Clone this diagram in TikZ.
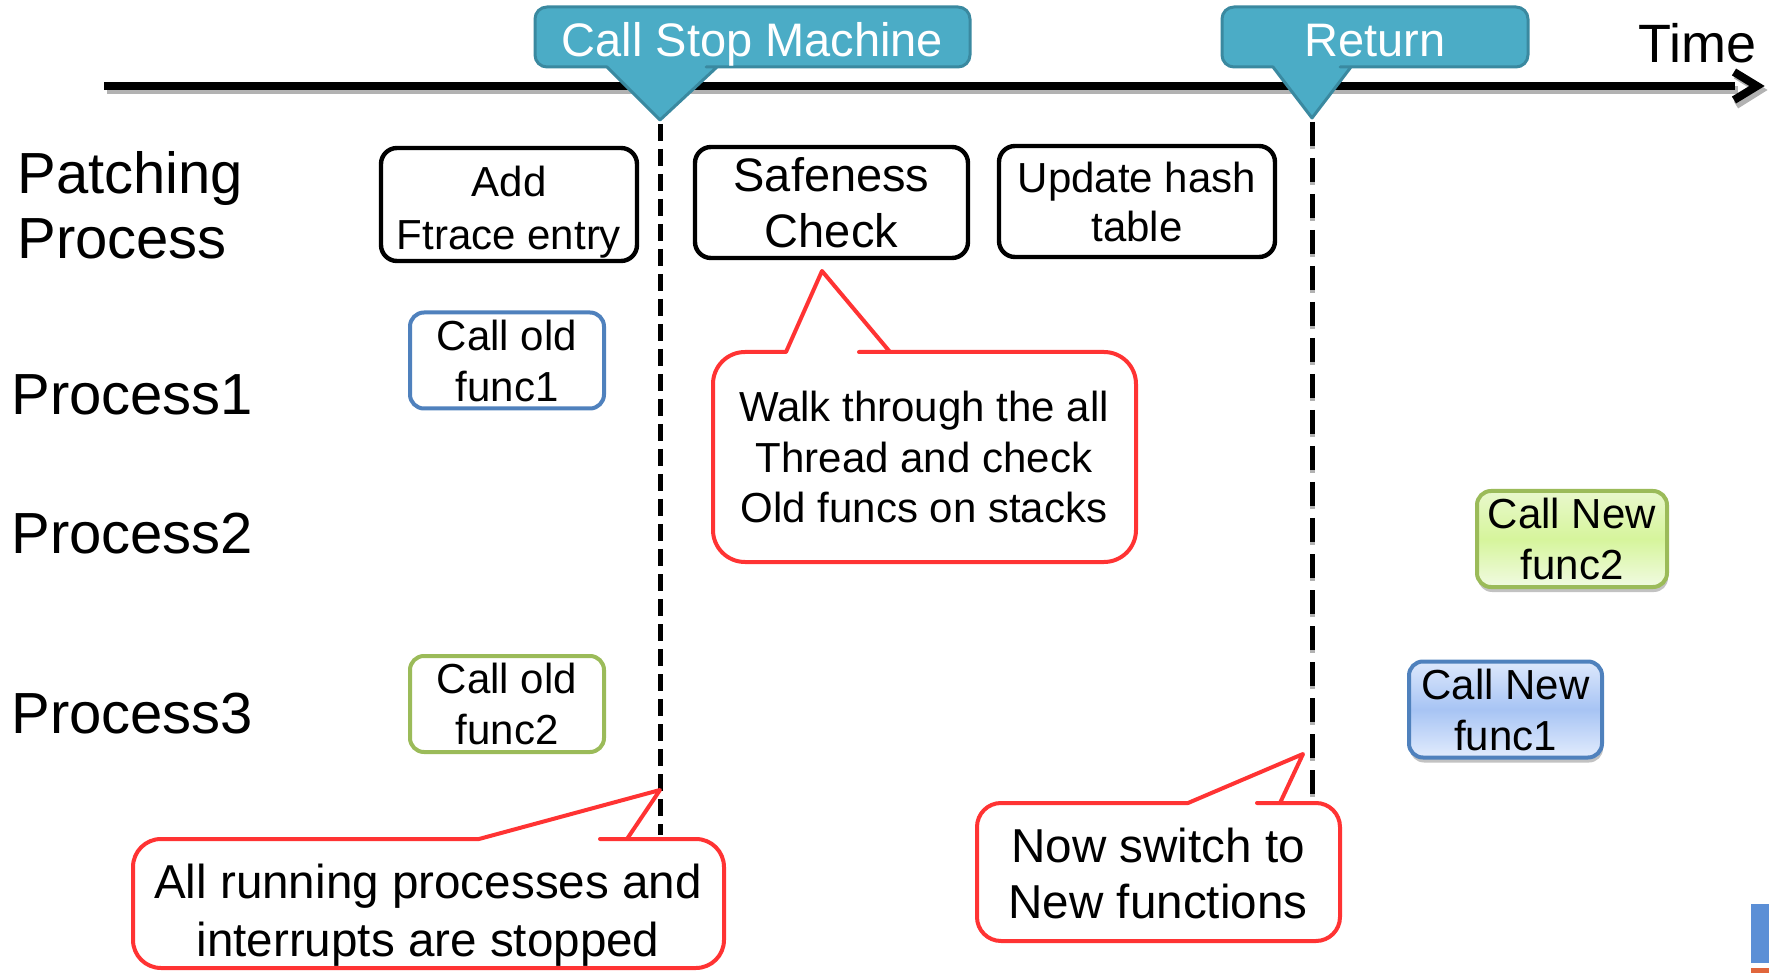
\documentclass[tikz,border=0pt]{standalone}
\usepackage{fontspec}
\setmainfont{Liberation Sans}
\usetikzlibrary{shadows,calc}
\definecolor{teal1}{HTML}{4BACC6}
\definecolor{teal2}{HTML}{3A89A0}
\definecolor{callred}{HTML}{FF3333}
\definecolor{oblue}{HTML}{4F81BD}
\definecolor{ogreen}{HTML}{9BBB59}
\definecolor{gtop}{HTML}{E9F8CC}
\definecolor{gmid}{HTML}{D6F59C}
\definecolor{gbot}{HTML}{F1FBE2}
\definecolor{btop}{HTML}{DDE8FC}
\definecolor{bmid}{HTML}{A7C4F4}
\definecolor{bbot}{HTML}{E2ECFD}
\definecolor{cornerblue}{HTML}{5B8FD6}
\definecolor{cornerorange}{HTML}{E0663C}
\begin{document}
\begin{tikzpicture}[x=0.5pt,y=-0.5pt,
  procbox/.style={draw=black, line width=2.2pt, rounded corners=8pt, align=center, inner sep=0pt, fill=white},
  funcbox/.style={line width=2pt, rounded corners=7pt, align=center, inner sep=0pt, minimum width=97pt, minimum height=48pt, font=\fontsize{21}{25.5}\selectfont},
  rowlabel/.style={anchor=base west, inner sep=0pt, font=\fontsize{29}{32.5}\selectfont},
  tealcall/.style={fill=teal1, draw=teal2, line width=1.5pt, line join=round},
  tealtext/.style={anchor=base, inner sep=0pt, text=white, font=\fontsize{23.5}{28}\selectfont},
  redcall/.style={draw=callred, line width=2pt, fill=white, line join=round},
  calltext/.style={align=center, inner sep=0pt},
  axisline/.style={line width=4pt},
  vlineone/.style={line width=2.5pt, dash pattern=on 8.5pt off 4pt},
  vlinetwo/.style={line width=2.5pt, dash pattern=on 12pt off 6pt}
]
\useasboundingbox (0,0) rectangle (1769,973);

% ---- time axis
\coordinate (ax0) at (104,86);
\coordinate (ax1) at (1735,86);
\coordinate (axtip) at (1757,86);
\draw[axisline, black!30] ([shift={(3,4)}]ax0) -- ([shift={(3,4)}]ax1);
\draw[axisline, black!30, line join=miter] ([shift={(-21,-11)}]axtip) -- ([shift={(3,4)}]axtip) -- ([shift={(-21,19)}]axtip);
\draw[axisline] (ax0) -- (ax1);
\draw[axisline, line join=miter] ([shift={(-23,-14)}]axtip) -- (axtip) -- ([shift={(-23,14)}]axtip);
\node[anchor=base east, inner sep=0pt, font=\fontsize{27}{30}\selectfont] (time) at (1757,63) {Time};

% ---- teal callouts
\coordinate (csmtip) at (660,120);
\coordinate (rettip) at (1312,118);
\draw[tealcall] (607,67) [rounded corners=6pt] -- (535,67) -- (535,7) -- (970,7) -- (970,67) -- (718,67) [sharp corners] -- (717,67) -- (csmtip) -- cycle;
\node[tealtext] (csm) at (752.5,57) {Call Stop Machine};
\draw[tealcall] (1273,67) [rounded corners=6pt] -- (1222,67) -- (1222,7) -- (1528,7) -- (1528,67) -- (1352,67) [sharp corners] -- (1351,67) -- (rettip) -- cycle;
\node[tealtext] (ret) at (1375,57) {Return};

% ---- dashed lines
\coordinate (v1bot) at (660,835);
\coordinate (v2bot) at (1312,795);
\draw[vlineone] ([shift={(0,4)}]csmtip) -- (v1bot);
\draw[vlinetwo, black!30] ([shift={(0,7)}]rettip) -- ([shift={(0,3)}]v2bot);
\draw[vlinetwo] ([shift={(0,4)}]rettip) -- (v2bot);

% ---- row labels
\node[rowlabel] (patch1) at (17,194) {Patching};
\node[rowlabel] (patch2) at (17,259) {Process};
\node[rowlabel] (p1) at (11,415) {Process1};
\node[rowlabel] (p2) at (11,553) {Process2};
\node[rowlabel] (p3) at (11,733) {Process3};

% ---- patching process boxes
\node[procbox, minimum width=128pt, minimum height=56.5pt] (add) at (509,204.5) {};
\node[align=center, inner sep=0pt, font=\fontsize{21}{26.5}\selectfont] (addtext) at (509,212) {Add\\Ftrace entry};
\node[procbox, minimum width=136.5pt, minimum height=55.5pt, font=\fontsize{23.5}{28}\selectfont] (safe) at (831.5,202.5) {Safeness\\Check};
\node[procbox, minimum width=138pt, minimum height=55.5pt, font=\fontsize{21}{24.5}\selectfont] (upd) at (1137,201.5) {Update hash\\table};

% ---- function boxes
\node[funcbox, draw=oblue, fill=white] (old1) at (507,360.5) {Call old\\func1};
\node[funcbox, draw=ogreen, fill=white] (old2) at (507,704) {Call old\\func2};
\node[funcbox, draw=ogreen, top color=gtop, bottom color=gbot, middle color=gmid, minimum width=95pt,
  drop shadow={shadow xshift=0.5pt, shadow yshift=-2.5pt, fill=black!40, opacity=0.6}] (new2) at (1572,539) {Call New\\func2};
\node[funcbox, draw=oblue, top color=btop, bottom color=bbot, middle color=bmid, minimum width=96.5pt,
  drop shadow={shadow xshift=0.5pt, shadow yshift=-2.5pt, fill=black!40, opacity=0.6}] (new1) at (1505.5,709.5) {Call New\\func1};

% ---- red callouts
\coordinate (walktip) at (822,271);
\draw[redcall] (786,352) [rounded corners=16pt] -- (713,352) -- (713,562) -- (1136,562) -- (1136,352) -- (891,352) [sharp corners] -- (890,352) -- (walktip) -- cycle;
\node[calltext, font=\fontsize{21}{25.25}\selectfont] (walk) at (924,457) {Walk through the all\\Thread and check\\Old funcs on stacks};

\coordinate (stoptip) at (660,790);
\draw[redcall] (479,839) [rounded corners=14pt] -- (133,839) -- (133,968) -- (724,968) -- (724,839) -- (628,839) [sharp corners] -- (627,839) -- (stoptip) -- cycle;
\node[calltext, font=\fontsize{23.8}{29}\selectfont] (stop) at (428,915.5) {All running processes and\\interrupts are stopped};

\coordinate (switchtip) at (1303,754);
\draw[redcall] (1188,803) [rounded corners=12pt] -- (977,803) -- (977,941) -- (1340,941) -- (1340,803) -- (1281,803) [sharp corners] -- (1280,803) -- (switchtip) -- cycle;
\node[calltext, font=\fontsize{23.8}{28}\selectfont] (switch) at (1158,873.5) {Now switch to\\New functions};

% ---- slide corner fragment
\fill[cornerblue] (1751,904) rectangle (1769,963);
\fill[cornerorange] (1751,968) rectangle (1769,973);
\end{tikzpicture}
\end{document}
